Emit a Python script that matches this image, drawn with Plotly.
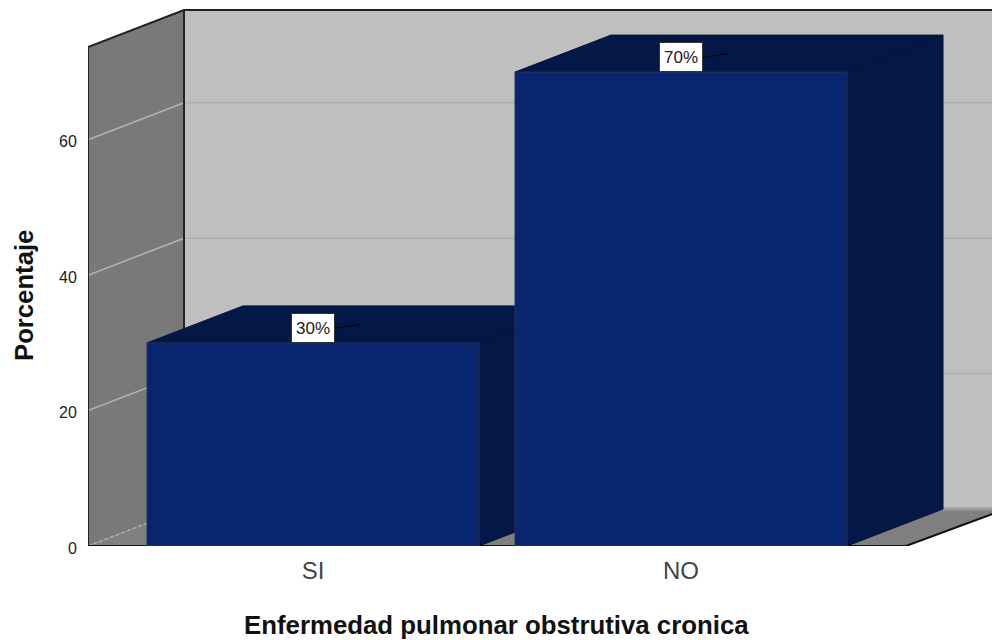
import plotly.graph_objects as go

# Chart data
categories = ["SI", "NO"]
percentages = [30, 70]
value_labels = ["30%", "70%"]
y_ticks = [0, 20, 40, 60]
x_title = "Enfermedad pulmonar obstrutiva cronica"
y_title = "Porcentaje"

# Oblique projection of the 3D box, in axis units
DEPTH_X = 96 / 368
DEPTH_Y = 37 / 6.77
BAR_WIDTH = 332 / 368
WALL_TOP = 73.7
FLOOR_LEFT = -225 / 368
FLOOR_RIGHT = 594 / 368
WALL_RIGHT = 1.95
X_RANGE = [-225 / 368, 679 / 368]
Y_RANGE = [0, 546 / 6.77]

FONT = "Liberation Sans"
BACK_WALL = "#BFBFBF"
SIDE_WALL = "#797979"
FLOOR = "#808080"
BAR_FRONT = "#082570"
BAR_SHADE = "#041847"


def project(x, y, depth=0.0):
    """Map a point of the 3D box onto the flat axes; depth runs 0 (front) to 1 (back)."""
    return x + DEPTH_X * depth, y + DEPTH_Y * depth


def polygon(points, fill=None, line=None, width=1, dash="solid", close=True):
    pts = [project(*p) for p in points]
    if close:
        pts.append(pts[0])
    return go.Scatter(
        x=[p[0] for p in pts],
        y=[p[1] for p in pts],
        mode="lines",
        fill="toself" if fill else "none",
        fillcolor=fill,
        line=dict(color=line or "rgba(0,0,0,0)", width=width, dash=dash),
        hoverinfo="skip",
        showlegend=False,
        cliponaxis=False if fill is None else True,
    )


fig = go.Figure()

# Walls and floor
fig.add_trace(polygon([(FLOOR_LEFT, 0, 1), (WALL_RIGHT, 0, 1), (WALL_RIGHT, WALL_TOP, 1), (FLOOR_LEFT, WALL_TOP, 1)], BACK_WALL))
fig.add_trace(polygon([(FLOOR_LEFT, 0, 0), (FLOOR_LEFT, 0, 1), (FLOOR_LEFT, WALL_TOP, 1), (FLOOR_LEFT, WALL_TOP, 0)], SIDE_WALL))
fig.add_trace(polygon([(FLOOR_LEFT, 0, 0), (FLOOR_RIGHT, 0, 0), (FLOOR_RIGHT, 0, 1), (FLOOR_LEFT, 0, 1)], FLOOR))
fig.add_trace(polygon([(FLOOR_LEFT, 0, 1), (WALL_RIGHT, 0, 1)], None, "#999999", 3, close=False))

# Gridlines across both walls
for tick in y_ticks:
    if tick == 0:
        fig.add_trace(polygon([(FLOOR_LEFT, 0, 0), (FLOOR_LEFT, 0, 1)], None, "#B5B5B5", 1.5, "dot", close=False))
        continue
    fig.add_trace(polygon([(FLOOR_LEFT, tick, 0), (FLOOR_LEFT, tick, 1)], None, "#B4B4B4", 1.5, close=False))
    fig.add_trace(polygon([(FLOOR_LEFT, tick, 1), (WALL_RIGHT, tick, 1)], None, "#B0B0B0", 1.5, close=False))

# Box outline
fig.add_trace(polygon([(FLOOR_LEFT, 0, 0), (FLOOR_LEFT, WALL_TOP, 0), (FLOOR_LEFT, WALL_TOP, 1), (WALL_RIGHT, WALL_TOP, 1)], None, "#222222", 2, close=False))
fig.add_trace(polygon([(FLOOR_LEFT, WALL_TOP, 1), (FLOOR_LEFT, 0, 1)], None, "#222222", 2, close=False))
fig.add_trace(polygon([(FLOOR_LEFT, 0, 0), (FLOOR_RIGHT - 0.003, 0, 0), (FLOOR_RIGHT - 0.003 + DEPTH_X * 1.2, DEPTH_Y * 1.2 * 0.96, 0)], None, "#111111", 2, close=False))

# Bars, drawn left to right so the nearer block overlaps the previous one
positions = list(range(len(categories)))
for pos, value in zip(positions, percentages):
    left = pos - BAR_WIDTH / 2
    right = pos + BAR_WIDTH / 2
    edge = "#03123A"
    fig.add_trace(polygon([(right, 0, 0), (right, 0, 1), (right, value, 1), (right, value, 0)], BAR_SHADE, edge))
    fig.add_trace(polygon([(left, value, 0), (right, value, 0), (right, value, 1), (left, value, 1)], BAR_SHADE, edge))
    fig.add_trace(polygon([(left, 0, 0), (right, 0, 0), (right, value, 0), (left, value, 0)], BAR_FRONT, "#2A3350"))

    # Leader from the centre of the top face to the value label
    fig.add_trace(polygon([(pos + 0.054, value + 2.1, 0), (pos, value, 0.5)], None, "#000000", 1, close=False))

annotations = [
    dict(
        x=pos, y=value, xref="x", yref="y", text=label,
        xanchor="center", yanchor="bottom", showarrow=False,
        font=dict(family=FONT, size=17, color="#222222"),
        bgcolor="#FFFFFF", bordercolor="#333333", borderwidth=1, borderpad=3,
        width=36, height=22,
    )
    for pos, value, label in zip(positions, percentages, value_labels)
]

# Titles are placed in page pixels, converted to paper fractions of the plot area
PLOT_W, PLOT_H = 904, 546


def page_x(px):
    return (px - 88) / PLOT_W


def page_y(py):
    return (546 - py) / PLOT_H


annotations.append(dict(
    x=page_x(496.5), y=page_y(625), xref="paper", yref="paper", text=f"<b>{x_title}</b>",
    showarrow=False, xanchor="center", yanchor="middle",
    font=dict(family=FONT, size=25.8, color="#111111"),
))
annotations.append(dict(
    x=page_x(24), y=page_y(296), xref="paper", yref="paper", text=f"<b>{y_title}</b>",
    showarrow=False, textangle=-90, xanchor="center", yanchor="middle",
    font=dict(family=FONT, size=25.7, color="#111111"),
))

fig.update_layout(
    width=992,
    height=640,
    autosize=False,
    margin=dict(l=88, r=0, t=0, b=94, pad=0),
    paper_bgcolor="#FFFFFF",
    plot_bgcolor="#FFFFFF",
    showlegend=False,
    annotations=annotations,
    xaxis=dict(
        range=X_RANGE, tickmode="array", tickvals=positions, ticktext=categories,
        showgrid=False, zeroline=False, showline=False,
        ticks="outside", ticklen=3, tickcolor="rgba(0,0,0,0)",
        tickfont=dict(family=FONT, size=24, color="#444444"),
    ),
    yaxis=dict(
        range=Y_RANGE, tickmode="array", tickvals=y_ticks, ticktext=[str(t) for t in y_ticks],
        showgrid=False, zeroline=False, showline=False,
        ticks="outside", ticklen=7, tickcolor="rgba(0,0,0,0)",
        ticklabelshift=2,
        tickfont=dict(family=FONT, size=16, color="#222222"),
    ),
)

fig.write_html("out.html")
